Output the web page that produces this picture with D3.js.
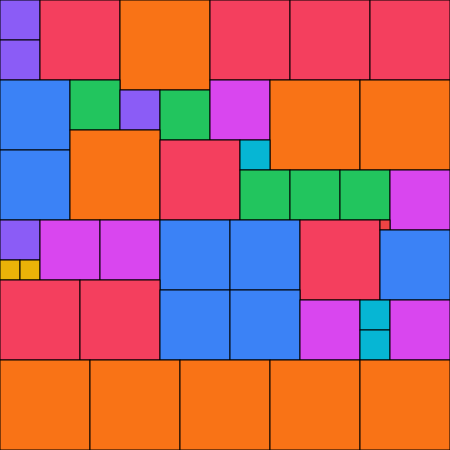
<!DOCTYPE html>
<html><head><meta charset="utf-8">
<script src="https://cdn.jsdelivr.net/npm/d3@7"></script>
<style>html,body{margin:0;padding:0;background:#fff;}svg{display:block;}</style>
</head><body>
<script>
// Square packing: grid column, grid row (in 10-unit cells) and side length
const cols  = [0,0,4,12,21,29,37, 0,0,7,12,16,21,27,36,7,16,24,24,29,34,39, 0,0,2,4,10,16,23,30,38,38, 0,8,16,23,30,36,36,39, 0,9,18,27,36];
const rows  = [0,4,0,0,0,0,0, 8,15,8,9,9,8,8,8,13,14,14,17,17,17,17, 22,26,26,22,22,22,22,22,22,23, 28,28,29,29,30,30,33,30, 36,36,36,36,36];
const sides = [4,4,8,9,8,8,8, 7,7,5,4,5,6,9,9,9,8,3,5,5,5,6, 4,2,2,6,6,7,7,8,1,7, 8,8,7,7,6,3,3,6, 9,9,9,9,9];
const sizeKeys = [1,2,3,4,5,6,7,8,9];
const palette  = ["#ef4444","#eab308","#06b6d4","#8b5cf6","#22c55e","#d946ef","#3b82f6","#f43f5e","#f97316"];

const W = 450, H = 450;
const data = sides.map((s,i)=>({c:cols[i], r:rows[i], s}));
const x = d3.scaleLinear().domain([0,45]).range([0,W]);
const y = d3.scaleLinear().domain([0,45]).range([0,H]);
const color = d3.scaleOrdinal().domain(sizeKeys).range(palette);

const svg = d3.select("body").append("svg").attr("width",W).attr("height",H);
svg.selectAll("rect").data(data).join("rect")
  .attr("x", d=>x(d.c)).attr("y", d=>y(d.r))
  .attr("width", d=>x(d.c+d.s)-x(d.c)).attr("height", d=>y(d.r+d.s)-y(d.r))
  .attr("fill", d=>color(d.s))
  .attr("stroke","#000").attr("stroke-width",1);
</script>
</body></html>
